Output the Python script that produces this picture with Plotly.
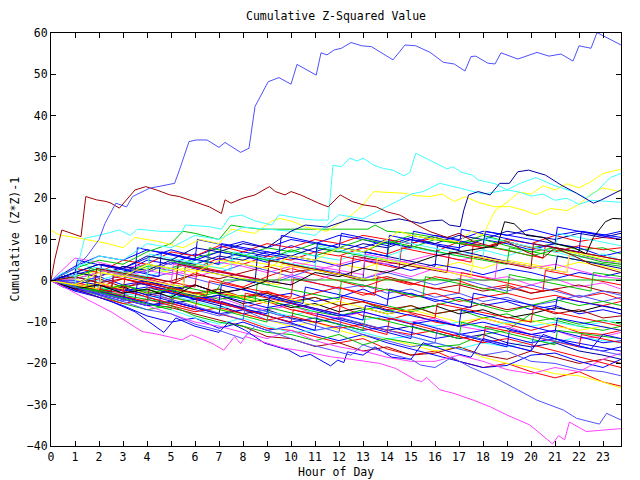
import plotly.graph_objects as go

# ---------------- data ----------------
HOURS = [0, 1, 2, 3, 4, 5, 6, 7, 8, 9, 10, 11, 12, 13, 14, 15, 16, 17, 18, 19, 20, 21, 22, 23, 23.75]

# walks sampled on HOURS
m01 = [0, 1, -0.5, -2, 0.5, -1, 2, 0, -1.5, 1, 3, 1.5, 0, -1.5, 0.5, -1, 1, 0, -2, -1, -3, -2, -4, -3, -4.5]
m02 = [0, 2, 1, 3.5, 2, 4.5, 3, 5.5, 4, 6, 5, 7, 6, 8, 6.5, 8.5, 7, 9.5, 8, 10, 9, 11, 9.5, 10.5, 10]
m03 = [0, -1, -2.5, -1, -3, -4.5, -3, -5, -6.5, -5, -7, -8, -6, -8.5, -9.5, -8, -10, -11, -9, -10.5, -12, -10.5, -12.5, -13, -12]
m04 = [0, 0.5, 2, 1, 3.5, 2.5, 5, 4, 6, 5, 7.5, 6, 8, 7, 9.5, 8, 10, 9, 11, 9.5, 8, 9, 7.5, 8, 6.5]
m05 = [0, -1.5, -1, -3, -2, -4, -3.5, -2, -4.5, -3, -5.5, -4, -6, -5, -7.5, -6, -8, -7, -9, -8, -10, -9, -10.5, -9.5, -10.5]
m06 = [0, 1.5, 3, 2, 5, 4, 6.5, 5, 7, 6, 8.5, 7, 9, 8, 10, 9, 11, 10, 12, 11, 12.5, 11, 12, 11, 12]
m07 = [0, -0.5, 1, -1, 0, -2, -1, -3, -2, -4, -3, -5, -4, -2, -4.5, -3, -5, -4, -6, -5, -7, -6, -8, -7, -8]
m08 = [0, 2, 4, 3, 5.5, 7.5, 6, 8, 9.5, 8, 10, 9, 11, 10, 8.5, 10.5, 9, 8, 10, 9, 7.5, 9, 8, 6, 7]
m09 = [0, 5.5, 4.5, 3, 4, 2.5, 1, 2.5, 1, -0.5, 1.5, 0, 2, 0.5, 2.5, 1, 3, 1.5, 0, 1, -1, 0.5, -1.5, -0.5, -2]
m10 = [0, -1, -2, -3.5, -2.5, -4, -5, -4, -6, -7, -6, -8, -9, -7.5, -9, -10, -9, -11, -12, -11, -13, -12, -14, -13.5, -12.5]
m11 = [0, 1, 0, 2, 1, 3, 5, 4, 6, 5, 7, 6, 5, 7, 6, 8, 7, 6, 7.5, 6, 8, 7, 5.5, 6.5, 5]
m12 = [0, -1, 0.5, -1.5, -0.5, -2, -3, -2, -4, -3, -5, -4, -6, -5, -7, -6, -8, -7, -5.5, -7, -6, -8, -7, -9, -8.5]
m13 = [0, 1, 2.5, 1.5, 3, 2, 4, 3, 5, 4, 3, 5, 4, 3, 5, 4, 3, 4.5, 3, 5, 4, 3, 4.5, 3.5, 2.5]
m14 = [0, 2, 1, 3.5, 2.5, 5, 4, 6, 5, 7, 6, 8, 7, 9, 8, 10, 9, 11, 10, 12, 11, 10, 11.5, 10.5, 11.5]
m15 = [0, -1, -2.5, -1.5, -3.5, -2.5, -4.5, -3.5, -5.5, -4.5, -6.5, -5.5, -7.5, -6.5, -8, -7, -6, -8, -7, -9, -8, -6.5, -7.5, -6, -7]
m16 = [0, 1, -0.5, 1.5, 0.5, 2, 0.5, -1, 0.5, -1, 1, -0.5, -2, -1, -3, -2, -4, -3, -5, -4, -6, -5, -3.5, -5, -4]
m17 = [0, 3, 2, 5, 4, 7, 6, 8.5, 7, 9, 8, 10, 9, 11, 10, 9, 10.5, 9, 8, 9.5, 8, 7, 8.5, 7.5, 8]
m18 = [0, -2, -3, -4.5, -6, -5, -6.5, -8, -7, -8.5, -10, -9, -10.5, -12, -11, -12.5, -14, -13, -12, -13.5, -15, -14, -16, -17, -16]
m19 = [0, 1, 3, 2, 4, 3, 5.5, 7, 6, 8, 7, 9, 8, 10, 9, 11, 10, 9, 10, 8.5, 7, 8, 6.5, 5, 4.5]
m20 = [0, -0.5, -1.5, 0.5, -1, -2.5, -1, -3, -4, -2.5, -4.5, -3, -1.5, -3.5, -2, -4, -3, -5, -4, -3, -4.5, -3.5, -5, -6, -5]
m21 = [0, -1.5, -3, -2, -4, -5.5, -4.5, -6, -8, -7, -9, -10, -9, -10.5, -12, -11, -12.5, -14, -13, -15, -16, -15, -17, -18, -19]
m22 = [0, 3.5, 6, 5, 7.5, 6.5, 5, 7, 6, 4.5, 6, 5, 3.5, 5, 4, 2.5, 4, 3, 1.5, 3, 2, 0.5, 2, 1, 2]
m23 = [0, -2, -4, -5.5, -4.5, -6, -7.5, -6.5, -8, -9.5, -8.5, -10, -11.5, -10.5, -12, -13, -12, -13.5, -15, -14, -15.5, -17, -18.5, -20, -21]
m24 = [0, -1, -2, -1, -2.5, -1.5, -3, -4.5, -3.5, -5, -6, -7.5, -8.5, -7, -6, -7.5, -6, -4.5, -6, -7.5, -6, -4.5, -6, -5, -6]
m25 = [0, -1, -1.5, -3, -4, -3.5, -5, -6.5, -6, -7.5, -8.5, -7, -8, -9.5, -8.5, -10, -11, -10, -11.5, -10, -11, -10, -11, -10, -9.5]
m26 = [0, 0.5, 2, 1, 2.5, 1.5, 3, 4.5, 3.5, 2, 3.5, 2.5, 4, 5.5, 4, 5, 6.5, 5, 6, 4.5, 3, 4, 2.5, 1, 0.5]
m27 = [0, 1, -0.5, 0.5, -1, 0, 1.5, 0.5, 2, 3.5, 2, 3, 1.5, 0, 1, -0.5, -2, -1, -2.5, -1.5, -3, -2, -1, -2.5, -3]
m28 = [0, -1.5, -0.5, -2, -3, -2, -3.5, -2.5, -4, -5.5, -4.5, -6, -5, -6.5, -8, -7, -8.5, -10, -9, -10.5, -9.5, -11, -12, -11, -12]
m29 = [0, 0, -1, -2.5, -1.5, -3, -4.5, -3.5, -5, -6.5, -5.5, -7, -8.5, -7.5, -9, -10.5, -9.5, -11, -10, -11.5, -13, -12, -13.5, -15, -14.5]
m30 = [0, -0.5, 1, 3, 2, 4.5, 3.5, 2, 4, 2.5, 1, 3, 2, 0.5, 2, 0.5, -1, 0.5, -1, -2.5, -1, -2.5, -4, -2.5, -3.5]
m31 = [0, -1, -3, -4.5, -6, -5, -6.5, -8, -9.5, -11.5, -12, -13.5, -15, -14, -16.5, -18, -17, -19.5, -21, -20, -22, -23.5, -22, -24.5, -25.5]
m32 = [0, 0.5, -1.5, -3, -2, -4, -5.5, -7, -8, -9.5, -11, -10, -12, -13.5, -14, -15.5, -17, -16, -18.5, -20, -21, -22.5, -23, -24.5, -26]
m33 = [0, -1.5, -2.5, -4, -5.5, -6.5, -8, -9.5, -11, -13.5, -14, -15.9, -15, -17, -16, -18, -17.5, -16, -18, -19, -17, -18.5, -20, -19, -20]
m34 = [0, -2.5, -4, -6, -8.5, -10, -9, -11.5, -10, -12, -11, -13, -14.5, -13, -15, -16.5, -18, -19.5, -21, -20.5, -18, -17.5, -19.5, -21, -19]
m35 = [0, -1, -3, -4, -5.5, -7, -9, -10.5, -9, -11, -12.5, -12, -11, -12.5, -14, -13.5, -15, -16.5, -15, -16, -14.5, -15, -13.5, -14.5, -15]
m36 = [0, -1.5, -2, -4.5, -6, -5.5, -7, -8.5, -7, -9.5, -10.5, -12, -11, -13, -14.5, -16, -15, -16.5, -18, -17, -19.5, -20, -21.5, -22, -23]
m37 = [0, -2, -3.5, -5.5, -7, -6, -8.5, -10, -11, -12.5, -13, -14.5, -13, -15.5, -14, -15, -16, -15.5, -13, -12, -8, -9.5, -11, -12, -11]
m38 = [0, -2, -4, -3, -6, -8, -10, -11, -12.5, -14, -12, -14.5, -16, -17, -18.5, -19.5, -19.5, -18, -19.5, -21.5, -22.5, -21, -22, -19, -17.5]

# sawtooth walks as (hour, value) pairs
s01 = [(0, 0), (2, -2.5), (2.1, 4), (4.5, 1), (4.6, 7), (7, 4), (7.1, 9), (9.5, 6.5), (9.6, 11), (12, 8), (12.1, 11.5), (15, 8), (15.1, 12), (18, 8.5), (18.1, 12), (21, 9), (21.1, 13), (23.75, 10)]
s02 = [(0, 0), (3, -3), (3.1, 2), (6, -1.5), (6.1, 3.5), (9, 0), (9.1, 5), (12, 1.5), (12.1, 6), (14.5, 3), (14.6, 8), (17.5, 4.5), (17.6, 9), (20.5, 5.5), (20.6, 8.5), (23.75, 5)]
s03 = [(0, 0), (1.5, -1.5), (1.6, 3), (4, 0.5), (4.1, 6), (6.5, 3), (6.6, 8), (9, 5), (11, 3), (11.1, 8), (14, 5), (14.1, 9.5), (17, 6), (19, 4), (19.1, 8), (22, 5), (23.75, 3.5)]
s04 = [(0, 0), (2.5, -3), (2.6, 1.5), (5.5, -2), (5.6, 3.5), (8.5, -0.5), (8.6, 6), (11.5, 2), (13, 0.5), (13.1, 7), (16, 3.5), (16.1, 8.5), (19.5, 4), (21, 2.5), (21.1, 6), (23.75, 3)]
s05 = [(0, 0), (3.5, -4.5), (3.6, -0.5), (7, -5), (7.1, -1), (10.5, -5.5), (10.6, -1.5), (14, -6), (14.1, -2), (17.5, -6.5), (17.6, -3), (21, -7), (21.1, -4), (23.75, -7)]
s06 = [(0, 0), (4, -5), (4.1, -1.5), (8, -6.5), (8.1, -3), (12, -8), (12.1, -4), (16, -9), (16.1, -5.5), (20, -10), (20.1, -6.5), (23.75, -11)]
s07 = [(0, 0), (2, -2), (2.1, 2.5), (5, -1), (5.1, 4), (8, 1), (10, -1), (10.1, 4.5), (13, 1.5), (13.1, 6.5), (16, 3), (18.5, 0.5), (18.6, 5), (21.5, 2), (21.6, 6.5), (23.75, 4)]
s08 = [(0, 0), (1, -1), (1.1, 4), (4, 1), (4.1, 6.5), (7.5, 2.5), (7.6, 7), (11, 3), (11.1, 8.5), (14.5, 4.5), (14.6, 9.5), (18, 5.5), (18.1, 10.5), (21, 7), (21.1, 11.5), (23.75, 8.5)]
s09 = [(0, 0), (3, -3.5), (5, -5.5), (5.1, -1), (8.5, -5), (8.6, -0.5), (12, -4.5), (12.1, 0), (15.5, -4), (15.6, 1), (19, -3), (19.1, 1.5), (22.5, -2.5), (22.6, 2), (23.75, 1)]
s10 = [(0, 0), (1, 2), (1.1, 5), (3.5, 2), (3.6, 8), (6, 5), (6.1, 10), (9, 6.5), (11, 4.5), (11.1, 9), (14, 6), (14.1, 11), (17, 7.5), (17.1, 12.5), (20, 9), (22, 7), (22.1, 12), (23.75, 10.5)]
s11 = [(0, 0), (2.5, -2.5), (2.6, 1), (6.5, -3.5), (6.6, 0), (10, -4), (10.1, 0.5), (13.5, -3.5), (13.6, 1), (17, -3), (17.1, 2), (20.5, -2.5), (20.6, 2.5), (23.75, -1)]
s12 = [(0, 0), (1.8, -2), (1.9, 3), (5.2, -0.5), (5.3, 4), (9, 0), (9.1, 5), (12.5, 1), (12.6, 6), (16.5, 2), (16.6, 7), (20, 3), (20.1, 9), (23.75, 5)]
s13 = [(0, 0), (4.5, -6), (4.6, -2.5), (9, -8), (9.1, -4), (13, -9.5), (13.1, -6), (17, -11), (17.1, -7), (21, -12.5), (21.1, -9), (23.75, -12)]
s14 = [(0, 0), (2, -2), (2.1, 2), (5.5, -1.5), (5.6, 3), (9.5, -1), (9.6, 4), (13.5, 0), (13.6, 5.5), (17.5, 1), (17.6, 6), (21.5, 2), (21.6, 7), (23.75, 4.5)]
s15 = [(0, 0), (3, -5), (3.1, -2), (7, -8), (7.1, -5), (11, -12), (11.1, -8), (15, -14), (15.1, -10), (19, -16), (19.1, -12), (23.75, -17)]
s16 = [(0, 0), (2, -3), (2.1, -1), (6, -7), (6.1, -4), (10, -10), (10.1, -7), (14, -13), (14.1, -9), (18, -15), (18.1, -11), (22, -16), (22.1, -13), (23.75, -15)]
s17 = [(0, 0), (5, -7), (5.1, -4), (9, -10), (9.1, -6.5), (13, -12), (13.1, -8.5), (17, -14), (17.1, -10), (21, -15.5), (21.1, -12), (23.75, -14)]
s18 = [(0, 0), (4, -6), (4.1, -3), (8, -9.5), (8.1, -6), (12, -12.5), (12.1, -9), (16, -15), (16.1, -11.5), (20, -17), (20.1, -13.5), (23.75, -18)]

# traced walks with their own sample hours
top_h = [0, 0.5, 1, 1.5, 2, 2.25, 2.7, 3.15, 3.4, 4.1, 4.5, 5.15, 5.35, 5.5, 5.75, 6.05, 6.5, 7.0, 7.25, 7.9, 8.25, 8.5, 9.05, 9.5, 10.0, 10.25, 11.05, 11.25, 11.5, 11.8, 12.1, 12.5, 12.95, 13.35, 14.25, 14.75, 15.2, 15.8, 16.35, 16.8, 17.25, 17.5, 17.7, 18.2, 18.5, 18.75, 19.45, 20.25, 20.75, 21.25, 21.75, 22.0, 22.5, 22.75, 23.0, 23.75]
top_v = [0, 1.5, 3, 6, 10, 13.9, 18.8, 17.9, 20.4, 22.4, 22.8, 23.6, 26.8, 29.5, 33.7, 34.1, 34.1, 32.3, 33.5, 31.1, 32.1, 42.2, 48.2, 49.2, 47.6, 52.4, 49.8, 55.2, 54.7, 55.9, 56.3, 57.7, 56.9, 56.7, 53.5, 57.1, 56.9, 55.3, 52.9, 52.5, 50.8, 54.3, 54.4, 52.7, 52.5, 55.2, 53.7, 55.3, 54.4, 54.9, 53.2, 56.9, 56.3, 60.1, 59.3, 57.1]

maroon_h = [0, 0.15, 0.45, 0.9, 1.25, 1.45, 1.9, 2.3, 2.5, 2.85, 3.5, 3.95, 4.4, 4.95, 5.35, 5.75, 6.2, 6.6, 7.1, 7.25, 7.5, 8.0, 8.5, 9.1, 9.35, 9.75, 10.0, 10.4, 11.15, 11.55, 12.05, 12.55, 13.0, 13.55, 14.0, 14.55, 15.25, 15.8, 16.5, 17.0, 17.6, 18.3, 19.0, 19.8, 20.5, 21.0, 21.8, 22.5, 23.75]
maroon_v = [0, 5, 12.3, 11.5, 10.7, 20.4, 19.6, 19.2, 18.8, 17.6, 22, 22.8, 22, 20.8, 20.4, 19.6, 18.8, 17.9, 16.3, 19.6, 18.8, 20, 20.8, 22.8, 21.6, 20.8, 21.6, 20.8, 18.8, 17.9, 20.8, 19.2, 18.4, 17.9, 16.7, 15.9, 13.5, 11.9, 10.5, 11.5, 9.5, 8.4, 9.5, 7, 5.5, 8, 6, 4, 2]

cyanhi_h = [0, 0.5, 1, 1.4, 2, 2.85, 3.3, 3.6, 4.5, 5.45, 5.6, 6.6, 7.1, 7.45, 7.95, 8.5, 9.2, 9.5, 10.5, 11.0, 11.55, 11.7, 11.75, 12.1, 12.45, 12.75, 13.0, 13.45, 13.85, 14.25, 14.7, 14.95, 15.2, 15.4, 15.95, 16.5, 16.75, 17.1, 17.55, 17.8, 18.5, 19.0, 19.5, 20.0, 20.5, 21.0, 21.5, 22.0, 22.5, 23.75]
cyanhi_v = [0, 2, 1, 10.3, 11, 12.3, 11, 12.5, 12, 11.9, 13.5, 13.1, 12.5, 15.5, 15.9, 14.5, 13.5, 16, 15, 14.7, 14.7, 24.4, 28, 27.6, 29.7, 29, 29.7, 28, 27.2, 26.8, 25.4, 26.2, 30.9, 30.3, 28.8, 27.1, 27.6, 26.3, 25.6, 24.4, 23.5, 22, 21.5, 20.5, 21, 19.5, 20, 18.5, 19.5, 19]

cyan2_h = [0, 1, 2, 3, 4, 5, 6, 7, 8, 9, 10, 11, 12, 13, 14, 15, 15.5, 16.2, 17, 18, 19, 19.55, 20.2, 21, 21.8, 22.3, 22.8, 23.3, 23.75]
cyan2_v = [0, 3, 6, 5, 9, 8, 11, 10, 13, 12.5, 12, 11, 16, 15, 18, 21, 21.6, 23.6, 22.5, 21, 22, 23.6, 25, 23, 21.5, 20, 22, 25, 26]

yel1_h = [0, 0.35, 1, 2, 2.3, 3, 3.5, 4.5, 5.5, 6.2, 7, 7.5, 8.5, 9.2, 9.55, 10.1, 10.6, 11.5, 12.2, 12.6, 13.0, 13.45, 14, 14.7, 15.2, 15.8, 16.3, 16.8, 17.25, 17.8, 18.5, 19.1, 19.7, 20.2, 20.8, 21.5, 22, 22.5, 23, 23.75]
yel1_v = [12.3, 11.1, 10.5, 9.5, 9.1, 8, 10.5, 9.5, 8, 10, 9, 12.5, 11.5, 14.5, 15.1, 14.3, 13, 12, 14.5, 16.3, 18.4, 21.6, 21.4, 21.2, 20.6, 20.4, 21, 19.2, 20.4, 19, 17.9, 18, 17.1, 16, 17.5, 17, 18.5, 21, 22.5, 21.5]

yel2_h = [0, 1, 2, 3, 4, 5, 6, 7, 8, 9, 10, 11, 12, 13, 14, 14.5, 15, 16, 17, 17.5, 18, 18.5, 19, 19.5, 20, 20.5, 21, 21.5, 22, 22.5, 23, 23.75]
yel2_v = [0, -1, 2, 1, 4, 3, 2, 5, 4, 3, 6, 5, 8, 7, 10, 12, 11, 10, 9.5, 12, 11, 17, 19, 21.5, 21, 23, 22, 23.5, 22.5, 24, 26, 27]

navy_h = [0, 1, 2, 3, 4, 5, 6, 7, 8, 9, 10, 10.6, 11.5, 12.5, 13.5, 14.5, 15.4, 15.8, 16.3, 16.6, 17.05, 17.2, 17.4, 17.8, 18.3, 18.7, 19.1, 19.45, 19.9, 20.6, 21.25, 21.9, 22.6, 22.9, 23.45, 23.75]
navy_v = [0, 2, 4, 3, 6, 5, 8, 7, 9, 8, 12, 13.5, 13, 15, 14, 15, 13.9, 14.5, 14.7, 13.5, 13.1, 17.1, 20.8, 21.6, 20.8, 23.6, 23.6, 26.4, 26.8, 25.6, 23.2, 21.2, 18.8, 19.5, 21.2, 22]

black_h = [0, 1, 2, 3, 4, 5, 6, 7, 8, 9, 10, 11, 12, 13, 14, 15, 16, 17, 18, 18.6, 18.9, 19.3, 19.8, 20.5, 21, 21.8, 22.3, 22.6, 23.1, 23.4, 23.75]
black_v = [0, -2, -1, -3, -2, -4, -1, -3, -2, 0, -1, 2, 1, 3, 2, 4, 6, 7, 8, 8.5, 14.3, 13.8, 11, 10.5, 9, 8, 6.5, 10.5, 14.3, 15.1, 15]

flatg_h = [0, 1, 2, 3, 4, 5, 6, 6.8, 7.2, 23.75]
flatg_v = [0, -1.5, -2.5, -1, -3, -2, -4, -3, 0.2, 0.2]

greenhi_h = [0, 1, 2, 3, 4, 5, 5.5, 6, 7, 7.5, 8, 8.7, 13.2, 13.5, 14, 15, 16, 17, 18, 19, 20, 21, 22, 23, 23.75]
greenhi_v = [0, 3, 5, 4, 7, 9, 12, 11.5, 10, 13.5, 13, 12.5, 12.5, 13.5, 12, 11.5, 10.5, 9, 8.5, 7.5, 6, 7.5, 6, 4.5, 4]

bluelow_h = [0, 0.5, 1.5, 2.5, 3.5, 4.7, 5.2, 6, 7, 7.4, 8.1, 8.9, 9.9, 10.4, 10.8, 11.2, 11.65, 11.95, 12.2, 12.35, 13, 13.5, 14.2, 15, 15.5, 16.5, 17.5, 18, 19, 20, 20.5, 21.5, 22.5, 23, 23.75]
bluelow_v = [0, -1.5, -3, -5, -7.5, -12.5, -9, -11, -12.5, -10, -12, -15.1, -16.8, -18.4, -17.8, -19.2, -20.6, -19.2, -19.8, -17.2, -18, -16, -18.5, -19, -15, -17, -18.5, -14, -15.5, -17, -13, -15, -16.5, -13, -14]

perilow_h = [0, 1, 2, 3, 4, 5, 6, 7, 8, 8.5, 9.5, 10.5, 11.5, 12.5, 13, 14, 15, 15.4, 16, 16.7, 17.5, 18.5, 19.45, 20.25, 21.35, 21.9, 22.85, 23.15, 23.75]
perilow_v = [0, -1.5, -3.5, -5, -7, -8, -10.5, -12, -14, -11, -13, -15, -16.5, -18, -15.5, -17.5, -19, -20.4, -21, -18.5, -21, -23.5, -26.4, -28.9, -31.3, -33.3, -34.7, -32.1, -33.7]

maglow_h = [0, 0.7, 1.5, 2.5, 3.8, 4.5, 5.45, 5.85, 6.7, 7.2, 7.65, 7.9, 8.1, 9, 9.7, 10.5, 11.65, 12.5, 13.7, 14.35, 15.2, 15.45, 15.65, 16.2, 16.75, 17.2, 17.6, 18.3, 19.0, 19.95, 20.9, 21.15, 21.4, 21.6, 22.3, 23.1, 23.75]
maglow_v = [0, -2, -4.5, -7.5, -12.3, -13, -14.3, -13.1, -15.1, -16.8, -13.5, -15.2, -13.5, -15, -16.3, -17, -18.4, -19, -20, -21.2, -24, -24.4, -23.4, -26.4, -27.2, -28.1, -28.9, -30.5, -32.5, -34.9, -39.5, -37.5, -38.5, -34.2, -36.5, -36.1, -35.8]

TITLE = "Cumulative Z-Squared Value"
X_LABEL = "Hour of Day"
Y_LABEL = "Cumulative (Z*Z)-1"
X_TICKS = list(range(0, 24))
Y_TICKS = list(range(-40, 61, 10))

# ---------------- styling ----------------
RED, GREEN, BLUE, MAG, CYAN = "#ff0000", "#00c000", "#0000ff", "#ff40ff", "#40ffff"
MAROON, YELLOW, NAVY, BLACK, PERI = "#a00000", "#ffff00", "#0000a0", "#000000", "#5050ff"

grid_series = [
    (m31, RED), (m32, YELLOW), (m33, MAROON), (m34, BLUE), (m35, CYAN), (m36, PERI),
    (m37, GREEN), (m38, MAG),
    (m01, RED), (m02, RED), (m03, RED), (m04, GREEN), (m05, GREEN), (m06, BLUE),
    (m07, BLUE), (m08, BLUE), (m09, MAG), (m10, MAG), (m11, CYAN), (m12, MAROON),
    (m13, YELLOW), (m14, NAVY), (m15, BLACK), (m16, PERI), (m17, RED), (m18, BLUE),
    (m19, GREEN), (m20, RED), (m21, NAVY), (m22, BLUE), (m23, RED), (m24, GREEN),
    (m25, CYAN), (m26, MAG), (m27, MAROON), (m28, YELLOW), (m29, BLUE), (m30, PERI),
]
saw_series = [
    (s01, BLUE), (s02, RED), (s03, GREEN), (s04, NAVY), (s05, BLUE), (s06, RED),
    (s07, MAG), (s08, CYAN), (s09, GREEN), (s10, BLUE), (s11, RED), (s12, MAROON),
    (s13, BLUE), (s14, YELLOW), (s15, BLUE), (s16, RED), (s17, GREEN), (s18, PERI),
]
own_series = [
    (flatg_h, flatg_v, GREEN), (greenhi_h, greenhi_v, GREEN), (black_h, black_v, BLACK),
    (bluelow_h, bluelow_v, BLUE), (perilow_h, perilow_v, PERI), (maglow_h, maglow_v, MAG),
    (yel1_h, yel1_v, YELLOW), (yel2_h, yel2_v, YELLOW), (cyan2_h, cyan2_v, CYAN),
    (cyanhi_h, cyanhi_v, CYAN), (navy_h, navy_v, NAVY), (maroon_h, maroon_v, MAROON),
    (top_h, top_v, PERI),
]

fig = go.Figure()


def add_line(xs, ys, col):
    fig.add_trace(go.Scatter(x=xs, y=ys, mode="lines",
                             line=dict(color=col, width=1), hoverinfo="skip"))


for vals, col in grid_series:
    add_line(HOURS, vals, col)
for pts, col in saw_series:
    add_line([p[0] for p in pts], [p[1] for p in pts], col)
for hs, vs, col in own_series:
    add_line(hs, vs, col)

# The page body has an 8px margin, so the figure is 8px smaller than the window.
W, H = 632, 472
L, R, T, B = 43, 19, 25, 34
FONT = "DejaVu Sans Mono"
FS = 11.5
axis_common = dict(showline=True, linecolor="black", linewidth=1, mirror="ticks",
                   ticks="inside", ticklen=5, tickcolor="black", tickwidth=1,
                   showgrid=False, zeroline=False,
                   tickfont=dict(family=FONT, size=FS, color="black"))
plot_h = H - T - B
fig.update_layout(
    width=W, height=H,
    margin=dict(l=L, r=R, t=T, b=B, autoexpand=False),
    paper_bgcolor="white", plot_bgcolor="white",
    showlegend=False,
    title=dict(text=TITLE, x=(L + (W - L - R) / 2) / W, xanchor="center",
               y=1 - 8 / H, yanchor="middle",
               font=dict(family=FONT, size=FS, color="black")),
    xaxis=dict(range=[0, 23.75], tickvals=X_TICKS, automargin=False, **axis_common),
    yaxis=dict(range=[-40, 60], tickvals=Y_TICKS, automargin=False, **axis_common),
    annotations=[
        dict(text=X_LABEL, xref="paper", yref="paper", x=0.5, y=-26 / plot_h,
             xanchor="center", yanchor="middle", showarrow=False,
             font=dict(family=FONT, size=FS, color="black")),
        dict(text=Y_LABEL, xref="paper", yref="paper", x=-37 / (W - L - R), y=0.5,
             xanchor="center", yanchor="middle", showarrow=False, textangle=-90,
             font=dict(family=FONT, size=FS, color="black")),
    ],
)
fig.write_html("out.html")
